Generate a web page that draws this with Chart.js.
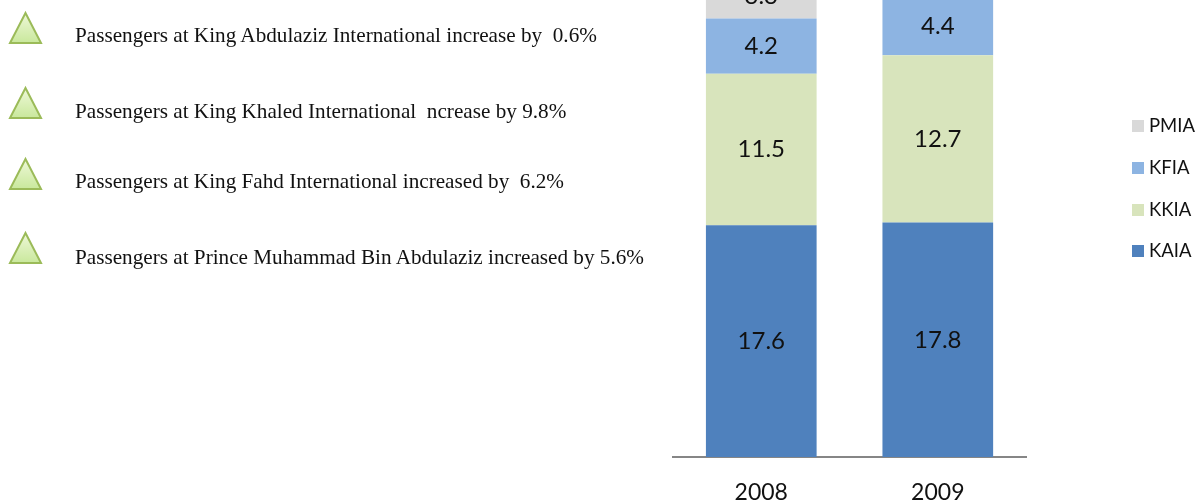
<!DOCTYPE html>
<html><head><meta charset="utf-8">
<script src="https://cdn.jsdelivr.net/npm/chart.js@4/dist/chart.umd.min.js"></script>
<style>
html,body{margin:0;padding:0;background:#fff;overflow:hidden}
#wrap{position:relative;width:1199px;height:502px}
canvas{position:absolute;left:0;top:0}
.note{position:absolute;left:75px;font:21.2px/24px "Liberation Serif",serif;color:#111;white-space:pre;transform:translateY(-50%)}
svg{position:absolute;left:0;top:0}
</style></head><body>
<div id="wrap">
<canvas id="c" width="1199" height="502"></canvas>
<svg width="60" height="280">
<defs><linearGradient id="g" x1="0" y1="0" x2="0" y2="1"><stop offset="0" stop-color="#eef8d8"/><stop offset="1" stop-color="#c9e89c"/></linearGradient></defs>
<polygon points="25.5,13 41,43 10,43" fill="url(#g)" stroke="#9bbb59" stroke-width="2"/>
<polygon points="25.5,88 41,118 10,118" fill="url(#g)" stroke="#9bbb59" stroke-width="2"/>
<polygon points="25.5,159 41,189 10,189" fill="url(#g)" stroke="#9bbb59" stroke-width="2"/>
<polygon points="25.5,233 41,263 10,263" fill="url(#g)" stroke="#9bbb59" stroke-width="2"/>
</svg>
<div class="note" style="top:35px">Passengers at King Abdulaziz International increase by  0.6%</div>
<div class="note" style="top:111px">Passengers at King Khaled International  ncrease by 9.8%</div>
<div class="note" style="top:181px">Passengers at King Fahd International increased by  6.2%</div>
<div class="note" style="top:257px">Passengers at Prince Muhammad Bin Abdulaziz increased by 5.6%</div>
</div>
<script>
const categories = ["2008", "2009"];
const kaia = [17.6, 17.8];
const kkia = [11.5, 12.7];
const kfia = [4.2, 4.4];
const pmia = [3.3, 3.5];

const sans = "Lato, sans-serif";

function swatch(color) {
  const s = document.createElement("canvas");
  s.width = 12; s.height = 12;
  const g = s.getContext("2d");
  g.fillStyle = color;
  g.fillRect(0, 0, 12, 12);
  return s;
}

const segmentLabels = {
  id: "segmentLabels",
  afterDatasetsDraw(chart) {
    const ctx = chart.ctx;
    ctx.save();
    ctx.font = "24px " + sans;
    ctx.fillStyle = "#111";
    ctx.textAlign = "center";
    ctx.textBaseline = "middle";
    chart.data.datasets.forEach((ds, i) => {
      chart.getDatasetMeta(i).data.forEach((bar, j) => {
        const p = bar.getProps(["x", "y", "base"], true);
        ctx.fillText(ds.data[j].toFixed(1), p.x, (p.y + p.base) / 2);
      });
    });
    ctx.restore();
  }
};

const placeLegend = {
  id: "placeLegend",
  afterLayout(chart) {
    const l = chart.legend, p = l.options.labels.padding;
    const w = l.right - l.left;
    l.left = 1136.25 - p; l.right = l.left + w;
    l.top = 117 - p; l.bottom = l.top + 190;
    l.adjustHitBoxes();
  }
};

new Chart(document.getElementById("c"), {
  type: "bar",
  data: {
    labels: categories,
    datasets: [
      { label: "KAIA", data: kaia, backgroundColor: "#4f81bd", pointStyle: swatch("#4f81bd") },
      { label: "KKIA", data: kkia, backgroundColor: "#d8e4bc", pointStyle: swatch("#d8e4bc") },
      { label: "KFIA", data: kfia, backgroundColor: "#8db4e2", pointStyle: swatch("#8db4e2") },
      { label: "PMIA", data: pmia, backgroundColor: "#d9d9d9", pointStyle: swatch("#d9d9d9") }
    ]
  },
  options: {
    responsive: false,
    animation: false,
    events: [],
    layout: { padding: { left: 673, right: 81, top: 0, bottom: 0 } },
    datasets: { bar: { categoryPercentage: 1, barPercentage: 0.627 } },
    scales: {
      x: {
        stacked: true,
        grid: { display: false, drawTicks: false },
        border: { color: "#868686", width: 2 },
        ticks: { font: { family: sans, size: 23 }, color: "#111", padding: 22 },
        afterFit(s) { s.height = 45; }
      },
      y: { stacked: true, display: false, min: 0, max: 34.7 }
    },
    plugins: {
      tooltip: { enabled: false },
      legend: {
        position: "right",
        align: "start",
        reverse: true,
        labels: {
          usePointStyle: true, pointStyleWidth: 3.5,
          boxHeight: 12, padding: 23.2,
          color: "#111",
          font: { family: sans, size: 18.5 }
        }
      }
    }
  },
  plugins: [segmentLabels, placeLegend]
});
</script>
</body></html>
